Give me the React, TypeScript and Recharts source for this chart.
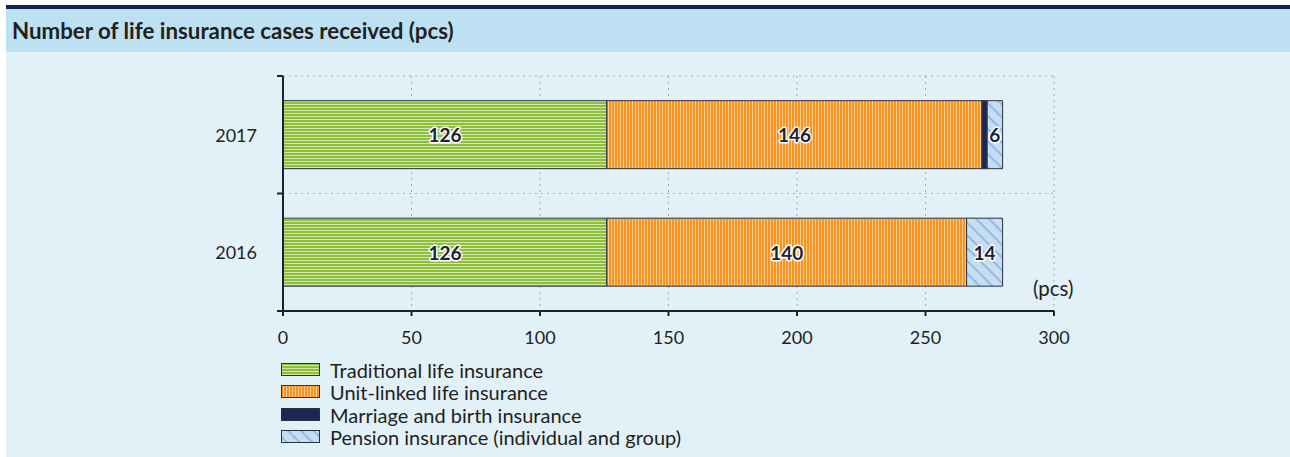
import React from 'react';
import { BarChart, Bar, XAxis, YAxis, CartesianGrid, ReferenceLine, LabelList } from 'recharts';

const title = 'Number of life insurance cases received (pcs)';
const unitLabel = '(pcs)';
const years = ['2017', '2016'];
const traditional = [126, 126];
const unitLinked = [146, 140];
const marriage = [2, 0];
const pension = [6, 14];
const xTicks = [0, 50, 100, 150, 200, 250, 300];
const seriesKeys = ['traditional', 'unitLinked', 'marriage', 'pension'];
const seriesNames = [
  'Traditional life insurance',
  'Unit-linked life insurance',
  'Marriage and birth insurance',
  'Pension insurance (individual and group)',
];
const seriesFills = ['url(#pat-green)', 'url(#pat-orange)', '#1b2757', 'url(#pat-blue)'];

const data = years.map((year, i) => ({
  year,
  traditional: traditional[i],
  unitLinked: unitLinked[i],
  marriage: marriage[i],
  pension: pension[i],
}));

const FONT = 'Lato, "Open Sans", sans-serif';
const DARK = '#1b2130';
const TEXT = '#231f20';

const Patterns = () => (
  <svg width="0" height="0" style={{ position: 'absolute' }}>
    <defs>
      <pattern id="pat-green" width="6" height="3" patternUnits="userSpaceOnUse">
        <rect width="6" height="3" fill="#d2e7a9" />
        <rect width="6" height="2" fill="#8dbe3d" />
      </pattern>
      <pattern id="pat-orange" width="3" height="6" patternUnits="userSpaceOnUse">
        <rect width="3" height="6" fill="#fdca90" />
        <rect width="2" height="6" fill="#f7931e" />
      </pattern>
      <pattern id="pat-blue" width="9" height="9" patternUnits="userSpaceOnUse" patternTransform="rotate(-45)">
        <rect width="9" height="9" fill="#c9ddf1" />
        <line x1="4.5" y1="0" x2="4.5" y2="9" stroke="#72b0e2" strokeWidth="1.4" />
      </pattern>
    </defs>
  </svg>
);

const Y_TICK_SIZE = 6;
const Y_TICK_MARGIN = 20;

const YTick = (props: any) => {
  const { x, y, payload, index, visibleTicksCount, height } = props;
  const count = visibleTicksCount || years.length;
  const band = (height || 235) / count;
  const axisX = x + Y_TICK_MARGIN + Y_TICK_SIZE;
  return (
    <g>
      <text x={x} y={y} textAnchor="end" dominantBaseline="central" fontSize={18} fill={TEXT}>
        {payload.value}
      </text>
      <line x1={axisX - Y_TICK_SIZE} x2={axisX} y1={y - band / 2} y2={y - band / 2} stroke={DARK} strokeWidth={2} />
      {index === count - 1 && (
        <line x1={axisX - Y_TICK_SIZE} x2={axisX} y1={y + band / 2} y2={y + band / 2} stroke={DARK} strokeWidth={2} />
      )}
    </g>
  );
};

const renderLabel = (props: any) => {
  const { x, y, width, height, value } = props;
  if (!value || value < 5) return null;
  return (
    <text
      x={Number(x) + Number(width) / 2}
      y={Number(y) + Number(height) / 2}
      textAnchor="middle"
      dominantBaseline="central"
      fontSize={19}
      fontWeight={700}
      fill="#1c2235"
      stroke="#ffffff"
      strokeWidth={3}
      strokeLinejoin="round"
      paintOrder="stroke"
    >
      {value}
    </text>
  );
};

export default function App() {
  return (
    <div style={{ position: 'relative', width: 1290, height: 457, fontFamily: FONT, background: '#fff' }}>
      <style>{'body{margin:0}'}</style>
      <Patterns />
      <div style={{ position: 'absolute', left: 6, top: 5, width: 1284, height: 452, background: '#e2f0f8' }} />
      <div style={{ position: 'absolute', left: 6, top: 5, width: 1284, height: 4, background: '#0e2452' }} />
      <div
        style={{
          position: 'absolute',
          left: 6,
          top: 9,
          width: 1284,
          height: 43,
          background: '#bde1f2',
        }}
      />
      <div
        style={{
          position: 'absolute',
          left: 12,
          top: 9,
          height: 43,
          lineHeight: '43px',
          fontSize: 22.3,
          fontWeight: 700,
          color: TEXT,
          whiteSpace: 'nowrap',
        }}
      >
        {title}
      </div>
      <div style={{ position: 'absolute', left: 0, top: 0 }}>
        <BarChart
          width={1290}
          height={457}
          data={data}
          layout="vertical"
          barCategoryGap="21%"
          margin={{ top: 76, right: 236, bottom: 116, left: 223 }}
        >
          <CartesianGrid horizontal={false} stroke="#a3adb6" strokeDasharray="2 4" />
          {years.map((yr) => (
            <ReferenceLine key={yr} y={yr} position="start" stroke="#a3adb6" strokeDasharray="2 4" />
          ))}
          <XAxis
            type="number"
            domain={[0, 300]}
            ticks={xTicks}
            interval={0}
            height={30}
            axisLine={{ stroke: DARK, strokeWidth: 2 }}
            tickLine={{ stroke: DARK, strokeWidth: 2 }}
            tickSize={5}
            tickMargin={15}
            tick={{ fontSize: 18, fill: TEXT }}
          />
          <YAxis
            type="category"
            dataKey="year"
            width={60}
            axisLine={{ stroke: DARK, strokeWidth: 2 }}
            tickLine={false}
            tickSize={Y_TICK_SIZE}
            tickMargin={Y_TICK_MARGIN}
            tick={<YTick />}
          />
          {seriesKeys.map((k, i) => (
            <Bar
              key={k}
              dataKey={k}
              name={seriesNames[i]}
              stackId="a"
              fill={seriesFills[i]}
              stroke="#2a3242"
              strokeWidth={1}
              isAnimationActive={false}
            >
              <LabelList dataKey={k} content={renderLabel} />
            </Bar>
          ))}
        </BarChart>
      </div>
      <div
        style={{
          position: 'absolute',
          left: 1033,
          top: 276,
          fontSize: 20.5,
          lineHeight: '24px',
          color: TEXT,
        }}
      >
        {unitLabel}
      </div>
      <div style={{ position: 'absolute', left: 281, top: 359 }}>
        {seriesNames.map((name, i) => (
          <div key={name} style={{ display: 'flex', alignItems: 'center', height: 22.3 }}>
            <svg width={40} height={14} style={{ marginRight: 9 }}>
              <rect x={0.5} y={0.5} width={38} height={12} fill={seriesFills[i]} stroke="#2a3242" strokeWidth={1} />
            </svg>
            <span style={{ fontSize: 20, lineHeight: '22px', color: TEXT, whiteSpace: 'nowrap' }}>{name}</span>
          </div>
        ))}
      </div>
    </div>
  );
}
